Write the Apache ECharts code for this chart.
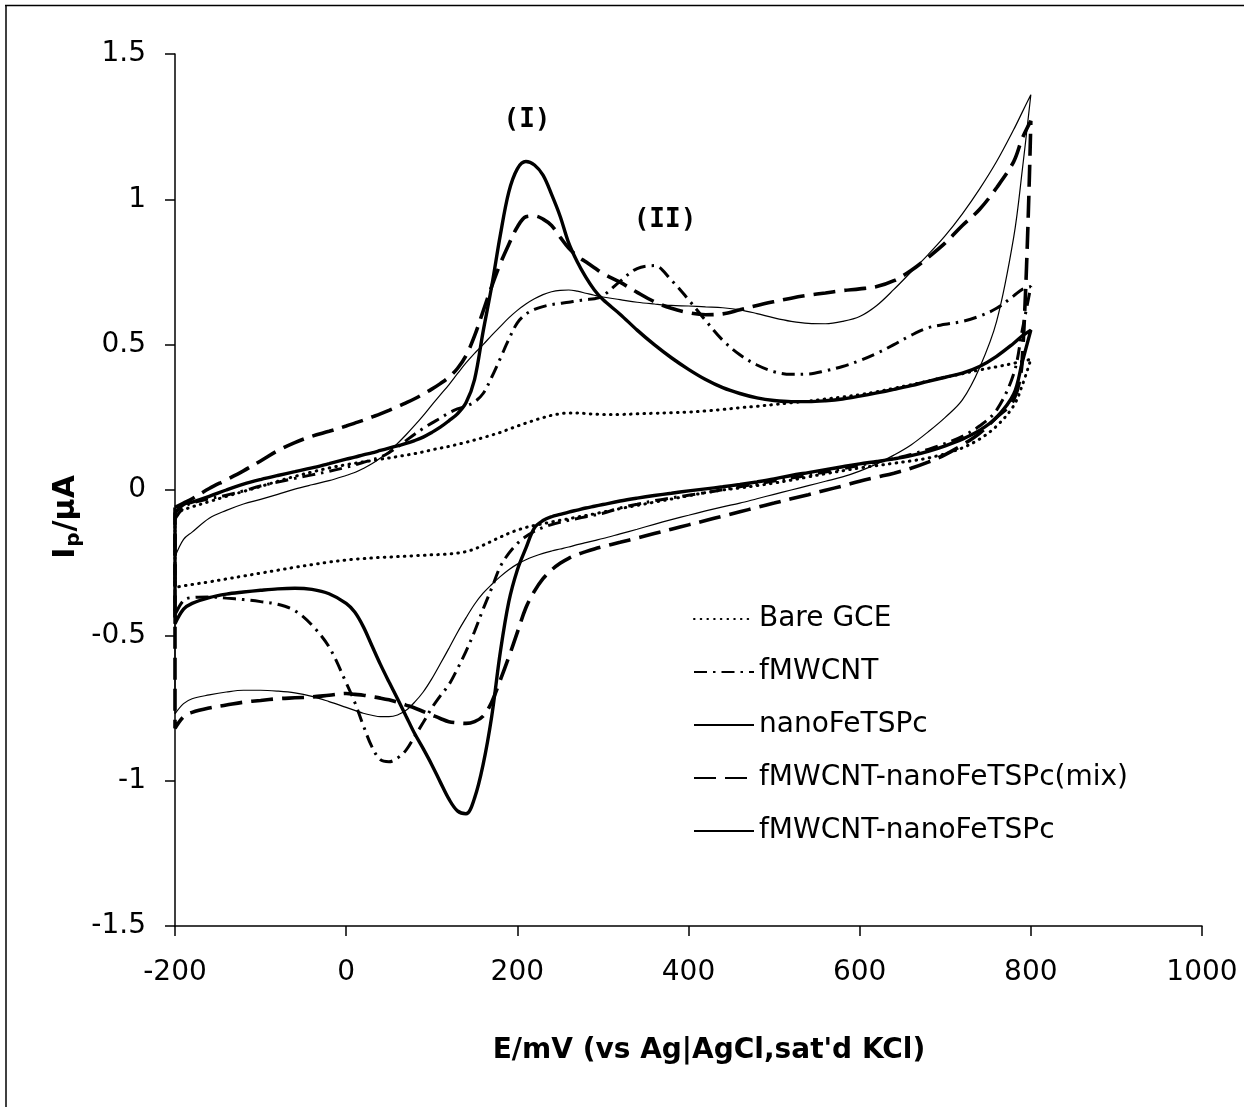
<!DOCTYPE html>
<html>
<head>
<meta charset="utf-8">
<title>Cyclic voltammograms</title>
<script src="https://cdn.jsdelivr.net/npm/echarts@6/dist/echarts.min.js"></script>
<style>
  html, body { margin: 0; padding: 0; background: #fff; }
  #chart { width: 1244px; height: 1107px; }
</style>
</head>
<body>
<div id="chart"></div>
<script>
// Potential grids (mV): anodic (forward) sweep and cathodic (reverse) sweep.
// Each grid is split into three parts: low end, 10 mV detail zone, high end.
const potentialFwdLow  = [-200, -190, -180, -160, -140, -120, -100, -80, -60, -40, -20];
const potentialFwdMid  = [0, 10, 20, 30, 40, 50, 60, 70, 80, 90, 100, 110, 120, 130, 140, 150,
                          160, 170, 180, 190, 200, 210, 220, 230, 240, 250, 260, 270, 280, 290, 300];
const potentialFwdHigh = [320, 340, 360, 380, 400, 420, 440, 460, 480, 500, 520, 540, 560, 580,
                          600, 620, 640, 660, 680, 700, 720, 740, 760, 780, 790, 800];
const potentialRevHigh = [790, 780, 760, 740, 720, 700, 680, 660, 640, 620, 600, 580, 560, 540,
                          520, 500, 480, 460, 440, 420, 400, 380, 360, 340, 320];
const potentialRevMid  = [300, 290, 280, 270, 260, 250, 240, 230, 220, 210, 200, 190, 180, 170, 160,
                          150, 140, 130, 120, 110, 100, 90, 80, 70, 60, 50, 40, 30, 20, 10, 0];
const potentialRevLow  = [-20, -40, -60, -80, -100, -120, -140, -160, -180, -190, -200];

// Currents (µA) — Bare GCE
const bareFwdLow  = [-0.080, -0.068, -0.058, -0.040, -0.022, -0.005, 0.012, 0.030, 0.047, 0.062, 0.076];
const bareFwdMid  = [0.087, 0.092, 0.097, 0.101, 0.106, 0.110, 0.115, 0.120, 0.125, 0.131, 0.138, 0.144,
                     0.150, 0.157, 0.164, 0.172, 0.180, 0.189, 0.198, 0.209, 0.220, 0.230, 0.240, 0.249,
                     0.257, 0.262, 0.265, 0.265, 0.263, 0.261, 0.260];
const bareFwdHigh = [0.260, 0.262, 0.264, 0.266, 0.268, 0.272, 0.277, 0.283, 0.288, 0.294, 0.300, 0.306,
                     0.313, 0.320, 0.328, 0.338, 0.350, 0.362, 0.375, 0.388, 0.400, 0.413, 0.424, 0.436,
                     0.443, 0.450];
const bareRevHigh = [0.360, 0.290, 0.220, 0.175, 0.145, 0.125, 0.110, 0.100, 0.092, 0.084, 0.076, 0.066,
                     0.056, 0.045, 0.034, 0.024, 0.015, 0.007, 0.000, -0.009, -0.020, -0.031, -0.042,
                     -0.053, -0.064];
const bareRevMid  = [-0.076, -0.082, -0.088, -0.093, -0.099, -0.104, -0.110, -0.116, -0.122, -0.129,
                     -0.138, -0.149, -0.162, -0.176, -0.190, -0.203, -0.212, -0.217, -0.220, -0.222,
                     -0.223, -0.225, -0.226, -0.228, -0.229, -0.231, -0.232, -0.234, -0.236, -0.238,
                     -0.241];
const bareRevLow  = [-0.248, -0.257, -0.266, -0.276, -0.286, -0.296, -0.306, -0.316, -0.325, -0.330, -0.335];

// fMWCNT
const cntFwdLow  = [-0.100, -0.060, -0.045, -0.030, -0.018, -0.003, 0.014, 0.027, 0.040, 0.052, 0.064];
const cntFwdMid  = [0.078, 0.086, 0.095, 0.104, 0.113, 0.128, 0.148, 0.170, 0.192, 0.212, 0.230, 0.247,
                    0.265, 0.279, 0.288, 0.303, 0.332, 0.388, 0.452, 0.518, 0.575, 0.605, 0.621, 0.631,
                    0.638, 0.642, 0.646, 0.651, 0.655, 0.658, 0.668];
const cntFwdHigh = [0.718, 0.762, 0.772, 0.722, 0.655, 0.583, 0.515, 0.465, 0.430, 0.407, 0.398, 0.399,
                    0.410, 0.425, 0.445, 0.470, 0.500, 0.532, 0.558, 0.570, 0.580, 0.598, 0.625, 0.668,
                    0.690, 0.700];
const cntRevHigh = [0.550, 0.400, 0.275, 0.220, 0.185, 0.160, 0.140, 0.122, 0.108, 0.096, 0.085, 0.073,
                    0.062, 0.051, 0.041, 0.031, 0.021, 0.011, 0.001, -0.009, -0.018, -0.027, -0.037,
                    -0.049, -0.062];
const cntRevMid  = [-0.080, -0.086, -0.092, -0.098, -0.104, -0.111, -0.119, -0.129, -0.142, -0.160,
                    -0.184, -0.218, -0.264, -0.338, -0.410, -0.487, -0.555, -0.615, -0.670, -0.708,
                    -0.750, -0.800, -0.848, -0.895, -0.922, -0.935, -0.928, -0.883, -0.810, -0.730,
                    -0.663];
const cntRevLow  = [-0.540, -0.465, -0.415, -0.393, -0.384, -0.377, -0.372, -0.368, -0.370, -0.380, -0.430];

// nanoFeTSPc
const pcFwdLow  = [-0.230, -0.170, -0.145, -0.097, -0.070, -0.048, -0.032, -0.015, 0.003, 0.018, 0.032];
const pcFwdMid  = [0.050, 0.060, 0.074, 0.090, 0.110, 0.133, 0.160, 0.190, 0.222, 0.256, 0.292, 0.327,
                   0.362, 0.400, 0.437, 0.470, 0.500, 0.532, 0.562, 0.592, 0.618, 0.640, 0.658, 0.672,
                   0.682, 0.687, 0.688, 0.684, 0.677, 0.670, 0.664];
const pcFwdHigh = [0.655, 0.646, 0.640, 0.635, 0.633, 0.630, 0.627, 0.620, 0.607, 0.592, 0.580, 0.573,
                   0.572, 0.580, 0.597, 0.635, 0.690, 0.750, 0.810, 0.875, 0.950, 1.035, 1.130, 1.240,
                   1.300, 1.360];
const pcRevHigh = [1.100, 0.870, 0.580, 0.420, 0.310, 0.250, 0.200, 0.155, 0.120, 0.090, 0.065, 0.045,
                   0.030, 0.015, 0.000, -0.015, -0.030, -0.045, -0.058, -0.072, -0.087, -0.102, -0.118,
                   -0.135, -0.151];
const pcRevMid  = [-0.167, -0.174, -0.181, -0.188, -0.196, -0.203, -0.210, -0.218, -0.228, -0.240,
                   -0.255, -0.274, -0.298, -0.325, -0.355, -0.393, -0.440, -0.490, -0.545, -0.598,
                   -0.650, -0.695, -0.730, -0.758, -0.774, -0.780, -0.780, -0.775, -0.768, -0.758,
                   -0.748];
const pcRevLow  = [-0.728, -0.710, -0.698, -0.692, -0.689, -0.689, -0.695, -0.705, -0.718, -0.735, -0.770];

// fMWCNT-nanoFeTSPc(mix)
const mixFwdLow  = [-0.060, -0.045, -0.030, 0.005, 0.035, 0.066, 0.100, 0.135, 0.163, 0.185, 0.202];
const mixFwdMid  = [0.220, 0.230, 0.240, 0.251, 0.262, 0.274, 0.287, 0.300, 0.314, 0.330, 0.347, 0.366,
                    0.388, 0.418, 0.462, 0.530, 0.615, 0.700, 0.778, 0.845, 0.905, 0.940, 0.943, 0.932,
                    0.910, 0.870, 0.832, 0.805, 0.785, 0.765, 0.745];
const mixFwdHigh = [0.715, 0.680, 0.648, 0.625, 0.610, 0.603, 0.606, 0.620, 0.635, 0.648, 0.660, 0.670,
                    0.678, 0.686, 0.692, 0.700, 0.720, 0.755, 0.800, 0.850, 0.910, 0.965, 1.040, 1.130,
                    1.210, 1.270];
const mixRevHigh = [0.450, 0.310, 0.250, 0.195, 0.155, 0.122, 0.096, 0.075, 0.058, 0.044, 0.030, 0.014,
                    -0.001, -0.016, -0.030, -0.045, -0.060, -0.075, -0.090, -0.105, -0.120, -0.135,
                    -0.150, -0.165, -0.180];
const mixRevMid  = [-0.195, -0.203, -0.212, -0.222, -0.235, -0.252, -0.275, -0.305, -0.348, -0.405,
                    -0.490, -0.575, -0.655, -0.730, -0.778, -0.797, -0.803, -0.801, -0.797, -0.786,
                    -0.774, -0.762, -0.750, -0.740, -0.730, -0.722, -0.716, -0.711, -0.706, -0.703,
                    -0.700];
const mixRevLow  = [-0.706, -0.712, -0.715, -0.718, -0.724, -0.730, -0.740, -0.750, -0.765, -0.780, -0.820];

// fMWCNT-nanoFeTSPc
const hybFwdLow  = [-0.080, -0.050, -0.042, -0.022, 0.000, 0.020, 0.036, 0.050, 0.063, 0.076, 0.091];
const hybFwdMid  = [0.106, 0.113, 0.121, 0.128, 0.136, 0.144, 0.152, 0.160, 0.170, 0.182, 0.198, 0.216,
                    0.238, 0.262, 0.300, 0.380, 0.545, 0.700, 0.875, 1.025, 1.105, 1.130, 1.118, 1.083,
                    1.017, 0.942, 0.850, 0.785, 0.732, 0.688, 0.655];
const hybFwdHigh = [0.605, 0.550, 0.500, 0.455, 0.415, 0.380, 0.352, 0.332, 0.317, 0.308, 0.304, 0.304,
                    0.307, 0.313, 0.323, 0.334, 0.346, 0.359, 0.374, 0.388, 0.402, 0.425, 0.460, 0.505,
                    0.530, 0.550];
const hybRevHigh = [0.440, 0.330, 0.250, 0.205, 0.175, 0.152, 0.133, 0.118, 0.107, 0.098, 0.090, 0.080,
                    0.070, 0.060, 0.050, 0.038, 0.028, 0.019, 0.011, 0.004, -0.003, -0.011, -0.019,
                    -0.028, -0.038];
const hybRevMid  = [-0.050, -0.056, -0.062, -0.069, -0.076, -0.084, -0.092, -0.105, -0.130, -0.200,
                    -0.275, -0.385, -0.560, -0.780, -0.945, -1.060, -1.114, -1.104, -1.063, -1.005,
                    -0.945, -0.890, -0.838, -0.778, -0.718, -0.660, -0.600, -0.535, -0.470, -0.420,
                    -0.390];
const hybRevLow  = [-0.357, -0.342, -0.338, -0.340, -0.345, -0.351, -0.358, -0.370, -0.390, -0.410, -0.460];

const seriesNames = [
  'Bare GCE',
  'fMWCNT',
  'nanoFeTSPc',
  'fMWCNT-nanoFeTSPc(mix)',
  'fMWCNT-nanoFeTSPc'
];
const xTicks = { min: -200, max: 1000, step: 200 };
const yTicks = { min: -1.5, max: 1.5, step: 0.5 };

const potentialFwd = potentialFwdLow.concat(potentialFwdMid, potentialFwdHigh);
const potentialRev = potentialRevHigh.concat(potentialRevMid, potentialRevLow);

// One closed voltammogram: forward sweep, reverse sweep, back to the start
function loop(fwdParts, revParts) {
  const fwd = [].concat(...fwdParts);
  const rev = [].concat(...revParts);
  const pts = potentialFwd.map((e, i) => [e, fwd[i]]);
  potentialRev.forEach((e, i) => pts.push([e, rev[i]]));
  pts.push([potentialFwd[0], fwd[0]]);
  return pts;
}

const curves = [
  loop([bareFwdLow, bareFwdMid, bareFwdHigh], [bareRevHigh, bareRevMid, bareRevLow]),
  loop([cntFwdLow, cntFwdMid, cntFwdHigh], [cntRevHigh, cntRevMid, cntRevLow]),
  loop([pcFwdLow, pcFwdMid, pcFwdHigh], [pcRevHigh, pcRevMid, pcRevLow]),
  loop([mixFwdLow, mixFwdMid, mixFwdHigh], [mixRevHigh, mixRevMid, mixRevLow]),
  loop([hybFwdLow, hybFwdMid, hybFwdHigh], [hybRevHigh, hybRevMid, hybRevLow])
];

const FONT = 'DejaVu Sans';
const styles = [
  { width: 3, type: [0.6, 6.1], cap: 'round' },
  { width: 3, type: [13, 6, 2.5, 6], cap: 'butt' },
  { width: 1.2, type: 'solid' },
  { width: 3.6, type: [22, 9], cap: 'butt' },
  { width: 3.4, type: 'solid' }
];

const chart = echarts.init(document.getElementById('chart'));
chart.setOption({
  animation: false,
  backgroundColor: '#ffffff',
  grid: { left: 175, right: 42, top: 54, bottom: 181, containLabel: false },
  xAxis: {
    type: 'value',
    min: xTicks.min, max: xTicks.max, interval: xTicks.step,
    axisLine: { onZero: false, lineStyle: { color: '#000', width: 1.5 } },
    axisTick: { inside: false, length: 10, lineStyle: { color: '#000', width: 1.5 } },
    axisLabel: { color: '#000', fontFamily: FONT, fontSize: 28, margin: 33, formatter: v => String(v) },
    splitLine: { show: false }
  },
  yAxis: {
    type: 'value',
    min: yTicks.min, max: yTicks.max, interval: yTicks.step,
    axisLine: { show: true, onZero: false, lineStyle: { color: '#000', width: 1.5 } },
    axisTick: { show: true, inside: false, length: 10, lineStyle: { color: '#000', width: 1.5 } },
    axisLabel: { color: '#000', fontFamily: FONT, fontSize: 28, margin: 29, formatter: v => String(v) },
    splitLine: { show: false }
  },
  legend: {
    orient: 'vertical',
    left: 693,
    top: 605,
    padding: 0,
    itemWidth: 60,
    itemHeight: 14,
    itemGap: 25,
    data: seriesNames,
    itemStyle: { opacity: 0 },
    textStyle: { color: '#000', fontFamily: FONT, fontSize: 28 }
  },
  series: seriesNames.map((name, k) => ({
    name: name,
    type: 'line',
    data: curves[k],
    showSymbol: false,
    symbol: 'none',
    smooth: 0.35,
    z: 2 + k,
    lineStyle: Object.assign({ color: '#000' }, styles[k]),
    itemStyle: { color: '#000' }
  })),
  graphic: [
    { type: 'line', shape: { x1: 6, y1: 5, x2: 6, y2: 1107 }, style: { stroke: '#000', lineWidth: 1.5 } },
    { type: 'line', shape: { x1: 5, y1: 5.5, x2: 1244, y2: 5.5 }, style: { stroke: '#000', lineWidth: 1.5 } },
    {
      type: 'text', x: 709, y: 1051,
      style: {
        text: "E/mV (vs Ag|AgCl,sat'd KCl)",
        font: 'bold 28px "DejaVu Sans"', fill: '#000',
        align: 'center', verticalAlign: 'middle'
      }
    },
    {
      type: 'text', x: 66, y: 517, rotation: Math.PI / 2,
      style: {
        text: '{a|I}{b|p}{a|/μA}',
        align: 'center', verticalAlign: 'middle', fill: '#000',
        rich: {
          a: { fontFamily: FONT, fontWeight: 'bold', fontSize: 30, lineHeight: 36, verticalAlign: 'middle', fill: '#000' },
          b: { fontFamily: FONT, fontWeight: 'bold', fontSize: 20, lineHeight: 36, verticalAlign: 'bottom', padding: [10, 1, 0, 1], fill: '#000' }
        }
      }
    },
    {
      type: 'text', x: 527, y: 120,
      style: { text: '(I)', font: 'bold 26px "DejaVu Sans Mono"', fill: '#000', align: 'center', verticalAlign: 'middle' }
    },
    {
      type: 'text', x: 665, y: 220,
      style: { text: '(II)', font: 'bold 26px "DejaVu Sans Mono"', fill: '#000', align: 'center', verticalAlign: 'middle' }
    }
  ]
});
</script>
</body>
</html>
